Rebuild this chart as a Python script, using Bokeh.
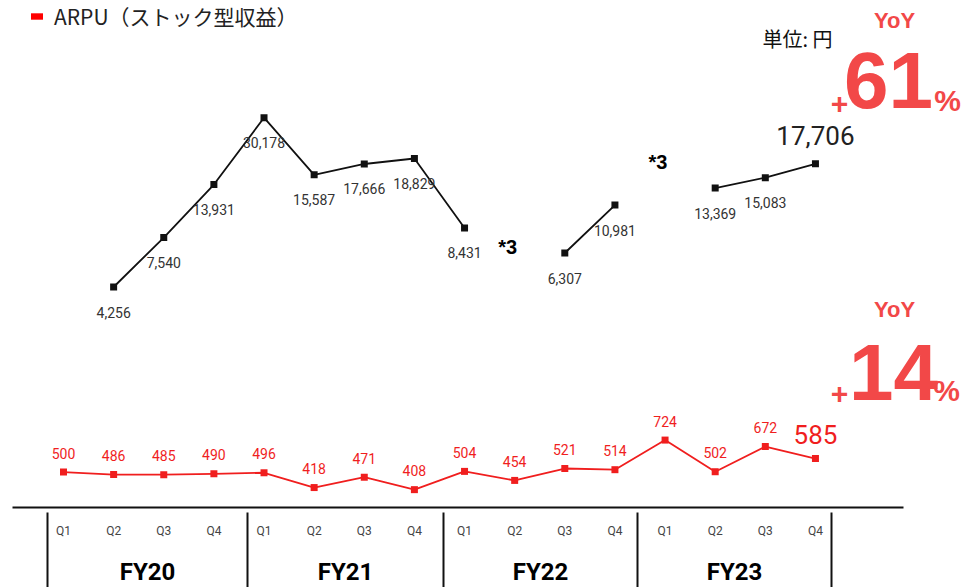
import math
import numpy as np
from bokeh.plotting import figure
from bokeh.models import (Range1d, ColumnDataSource, Label, Legend, LegendItem,
                          CDSView, IndexFilter)
from bokeh.core.properties import value
from bokeh.embed import file_html
from bokeh.resources import INLINE

# ---------------- data ----------------
quarters = ["Q1", "Q2", "Q3", "Q4"] * 4
fiscal_years = ["FY20", "FY21", "FY22", "FY23"]
stock_values = [None, 4256, 7540, 13931, 30178, 15587, 17666, 18829, 8431,
                None, 6307, 10981, None, 13369, 15083, 17706]
arpu_values = [500, 486, 485, 490, 496, 418, 471, 408, 504, 454, 521, 514,
               724, 502, 672, 585]
gap_note_index = [9, 12]
gap_note_text = ["*3", "*3"]
legend_label = "ARPU（ストック型収益）"
unit_label = "単位: 円"
yoy_label = "YoY"
yoy_stock = "61"
yoy_arpu = "14"

# ---------------- layout helpers ----------------
W, H = 963, 587
X0, DX = 63.0, 50.13                    # pixel of first quarter, pixels per quarter
PY_REF, LOG_REF, PPD = 286.5, math.log10(4256), 199.0   # log scale, pixels per decade


def xd(px):
    return (px - X0) / DX


def yd(py):
    return 10 ** (LOG_REF - (py - PY_REF) / PPD)


RED = "#f01e1e"
BIG_RED = "#f24848"
BLACK = "#111111"

p = figure(width=W, height=H,
           x_range=Range1d(xd(0), xd(W)), y_range=Range1d(yd(H), yd(0)),
           y_axis_type="log", x_axis_location=None, y_axis_location=None,
           output_backend="svg", toolbar_location=None,
           min_border_left=0, min_border_right=0, min_border_top=0,
           min_border_bottom=0)
p.outline_line_color = None
p.background_fill_color = "white"
p.border_fill_color = "white"
p.xgrid.grid_line_color = None
p.ygrid.grid_line_color = None

idx = list(range(len(quarters)))
stock_arr = [np.nan if v is None else float(v) for v in stock_values]
stock_txt = ["" if v is None else f"{v:,}" for v in stock_values]
arpu_txt = [f"{v:,}" for v in arpu_values]
src = ColumnDataSource(dict(x=idx, stock=stock_arr, arpu=arpu_values,
                            stock_txt=stock_txt, arpu_txt=arpu_txt))
n = len(idx)
body = CDSView(filter=IndexFilter(list(range(n - 1))))
last = CDSView(filter=IndexFilter([n - 1]))

# ---------------- category axis (drawn on the same scales) ----------------
separator_px = [47, 247, 443, 637, 831]
separators = [xd(s) for s in separator_px]
axis_y = yd(507)
p.segment(x0=[xd(12)], x1=[xd(903)], y0=[axis_y], y1=[axis_y],
          line_color=BLACK, line_width=2)
p.segment(x0=separators, x1=separators, y0=[yd(512)] * len(separators),
          y1=[yd(H + 5)] * len(separators), line_color=BLACK, line_width=2)
q_src = ColumnDataSource(dict(x=idx, y=[yd(530)] * n, t=quarters))
p.text("x", "y", text="t", source=q_src, text_align="center", text_baseline="middle",
       text_font=value("Roboto"), text_font_size="12px", text_color="#444444")
fy_x = [(a + b) / 2 for a, b in zip(separators[:-1], separators[1:])]
fy_src = ColumnDataSource(dict(x=fy_x, y=[yd(571)] * len(fy_x), t=fiscal_years))
p.text("x", "y", text="t", source=fy_src, text_align="center", text_baseline="middle",
       text_font=value("Roboto"), text_font_style="bold", text_font_size="24px",
       text_color="black")

# ---------------- stock-type series (black) ----------------
p.line("x", "stock", source=src, line_color=BLACK, line_width=1.8)
p.scatter("x", "stock", source=src, marker="square", size=7,
          fill_color=BLACK, line_color=None)
p.text("x", "stock", text="stock_txt", source=src, view=body, y_offset=25,
       text_align="center", text_baseline="middle", text_font=value("Roboto"),
       text_font_size="14px", text_color="#333333")
p.text("x", "stock", text="stock_txt", source=src, view=last, y_offset=-28,
       text_align="center", text_baseline="middle", text_font=value("Roboto"),
       text_font_size="26px", text_color="#222222")

# ---------------- ARPU series (red) ----------------
p.line("x", "arpu", source=src, line_color=RED, line_width=1.8)
p.scatter("x", "arpu", source=src, marker="square", size=7,
          fill_color=RED, line_color=None)
p.text("x", "arpu", text="arpu_txt", source=src, view=body, y_offset=-19,
       text_align="center", text_baseline="middle", text_font=value("Roboto"),
       text_font_size="14px", text_color=RED)
p.text("x", "arpu", text="arpu_txt", source=src, view=last, y_offset=-24,
       text_align="center", text_baseline="middle", text_font=value("Roboto"),
       text_font_size="26px", text_color=RED)

# gap notes
note_src = ColumnDataSource(dict(x=[i - 0.14 for i in gap_note_index],
                                 y=[yd(246), yd(161)], t=gap_note_text))
p.text("x", "y", text="t", source=note_src, text_align="center",
       text_baseline="middle", text_font=value("Liberation Sans"),
       text_font_style="bold", text_font_size="20px", text_color="black")

# ---------------- legend ----------------
icon = p.quad(left=[np.nan], right=[np.nan], top=[np.nan], bottom=[np.nan],
              fill_color="#ff0000", line_color=None)
legend = Legend(items=[LegendItem(label=legend_label, renderers=[icon])],
                location=(29, H - 31), padding=0, margin=0, spacing=0,
                glyph_width=15, glyph_height=8, label_standoff=10,
                label_text_font="Noto Sans CJK JP", label_text_font_size="21px",
                label_text_color="#222222", border_line_color=None,
                background_fill_alpha=0)
p.add_layout(legend, "center")


def add_label(text, px, py, size, color, font, style="bold", align="center"):
    p.add_layout(Label(x=xd(px), y=yd(py), text=text, text_font=font,
                       text_font_size=f"{size}px", text_color=color,
                       text_font_style=style, text_align=align,
                       text_baseline="middle"))


add_label(unit_label, 762, 38, 20, "#111111", "Noto Sans CJK JP", style="normal",
          align="left")
add_label(yoy_label, 894, 20, 22, BIG_RED, "Liberation Sans")
add_label("+", 839, 103, 30, BIG_RED, "Liberation Sans")
add_label(yoy_stock, 888, 80, 80, BIG_RED, "Liberation Sans")
add_label("%", 947, 100, 30, BIG_RED, "Liberation Sans")
add_label(yoy_label, 894, 309, 22, BIG_RED, "Liberation Sans")
add_label("+", 839, 393, 30, BIG_RED, "Liberation Sans")
add_label(yoy_arpu, 893, 372, 80, BIG_RED, "Liberation Sans")
add_label("%", 946, 390, 30, BIG_RED, "Liberation Sans")

open("out.html", "w").write(file_html(p, INLINE))
